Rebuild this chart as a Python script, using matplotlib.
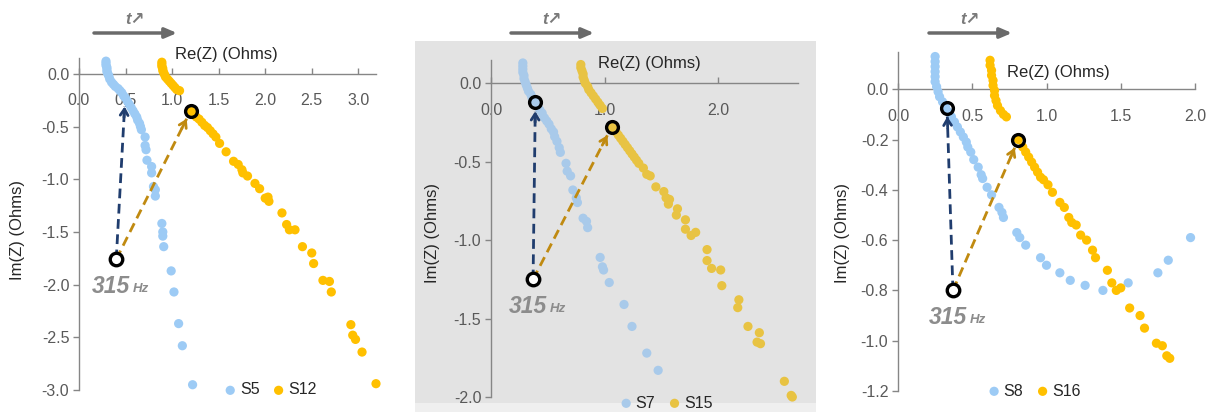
import matplotlib
matplotlib.use("Agg")
import matplotlib.pyplot as plt
import numpy as np
from matplotlib.patches import Rectangle
from matplotlib.ticker import FormatStrFormatter, MultipleLocator

plt.rcParams['font.family'] = ['Liberation Sans', 'DejaVu Sans']
plt.rcParams['axes.unicode_minus'] = False

# ---- panel 1: S5 / S12 ----
s5_re = [0.29, 0.29, 0.29, 0.30, 0.30, 0.30, 0.31, 0.32, 0.33, 0.35, 0.37, 0.39, 0.42, 0.44, 0.46,
         0.48, 0.50, 0.52, 0.54, 0.56, 0.58, 0.60, 0.62, 0.63, 0.65, 0.66, 0.67,
         0.71, 0.71, 0.72, 0.73, 0.78, 0.78, 0.80, 0.82, 0.82, 0.89, 0.90, 0.90, 0.91, 0.99, 1.02,
         1.07, 1.11, 1.22]
s5_im = [0.12, 0.10, 0.08, 0.06, 0.04, 0.02, 0.00, -0.02, -0.05, -0.08, -0.10, -0.12, -0.14, -0.16, -0.18,
         -0.21, -0.23, -0.26, -0.29, -0.32, -0.35, -0.38, -0.41, -0.44, -0.47, -0.50, -0.53,
         -0.60, -0.68, -0.72, -0.82, -0.88, -0.94, -1.07, -1.10, -1.16, -1.42, -1.50, -1.54, -1.64, -1.87, -2.07,
         -2.37, -2.58, -2.95]
s12_re = [0.89, 0.89, 0.89, 0.90, 0.90, 0.91, 0.92, 0.93, 0.95, 0.97, 0.99, 1.01, 1.03, 1.05, 1.08,
          1.20, 1.23, 1.26, 1.29, 1.32, 1.35, 1.38, 1.41, 1.44, 1.47, 1.51, 1.58, 1.66, 1.71, 1.75, 1.76,
          1.81, 1.89, 1.94, 2.00, 2.04, 2.03, 2.18, 2.23, 2.26, 2.32, 2.40, 2.50, 2.52, 2.62, 2.69, 2.71,
          2.92, 2.94, 2.97, 3.04, 3.19]
s12_im = [0.11, 0.09, 0.07, 0.05, 0.03, 0.01, -0.01, -0.03, -0.05, -0.07, -0.09, -0.11, -0.13, -0.15, -0.16,
          -0.35, -0.38, -0.41, -0.43, -0.46, -0.49, -0.51, -0.54, -0.57, -0.60, -0.66, -0.74, -0.83, -0.86, -0.91, -0.94,
          -0.97, -1.04, -1.09, -1.18, -1.21, -1.17, -1.32, -1.43, -1.48, -1.48, -1.64, -1.70, -1.80, -1.96, -1.97, -2.07,
          -2.38, -2.48, -2.52, -2.64, -2.94]

# ---- panel 2: S7 / S15 ----
s7_re = [0.28, 0.28, 0.28, 0.28, 0.29, 0.29, 0.30, 0.31, 0.32, 0.33, 0.35, 0.36, 0.38, 0.39, 0.41, 0.43,
         0.45, 0.47, 0.49, 0.51, 0.53, 0.55, 0.56, 0.58,
         0.60, 0.61, 0.66, 0.67, 0.70, 0.72, 0.75, 0.76, 0.81, 0.84, 0.85, 0.96, 0.98, 0.99, 1.04, 1.17,
         1.24, 1.37, 1.47]
s7_im = [0.13, 0.11, 0.09, 0.07, 0.05, 0.03, 0.01, -0.01, -0.03, -0.05, -0.07, -0.09, -0.11, -0.12, -0.14, -0.17,
         -0.19, -0.22, -0.24, -0.26, -0.29, -0.31, -0.34, -0.37,
         -0.41, -0.44, -0.51, -0.56, -0.59, -0.68, -0.73, -0.76, -0.86, -0.88, -0.92, -1.11, -1.17, -1.19, -1.27, -1.41,
         -1.55, -1.72, -1.83]
s15_re = [0.79, 0.79, 0.80, 0.81, 0.81, 0.82, 0.83, 0.85, 0.86, 0.88, 0.90, 0.92, 0.94, 0.96, 0.98,
          1.06, 1.08, 1.10, 1.12, 1.14, 1.16, 1.18, 1.20, 1.22, 1.24, 1.26, 1.28, 1.30, 1.34, 1.37, 1.40,
          1.45, 1.52, 1.54, 1.57, 1.56, 1.64, 1.63, 1.71, 1.71, 1.76, 1.80, 1.90, 1.90, 1.94, 2.02, 2.03,
          2.18, 2.17, 2.26, 2.36, 2.34, 2.37, 2.58, 2.64, 2.65]
s15_im = [0.12, 0.10, 0.08, 0.06, 0.04, 0.02, 0.00, -0.02, -0.04, -0.06, -0.08, -0.10, -0.12, -0.14, -0.16,
          -0.28, -0.29, -0.31, -0.33, -0.35, -0.37, -0.39, -0.41, -0.43, -0.45, -0.47, -0.49, -0.51, -0.54, -0.58, -0.59,
          -0.66, -0.69, -0.73, -0.74, -0.77, -0.80, -0.84, -0.87, -0.93, -0.97, -0.95, -1.06, -1.13, -1.18, -1.19, -1.29,
          -1.38, -1.43, -1.55, -1.59, -1.65, -1.66, -1.90, -1.99, -2.00]

# ---- panel 3: S8 / S16 ----
s8_re = [0.25, 0.25, 0.25, 0.25, 0.25, 0.25, 0.26, 0.27, 0.28, 0.30, 0.32, 0.34, 0.36, 0.38, 0.40, 0.42,
         0.44, 0.46, 0.47, 0.49,
         0.51, 0.54, 0.56, 0.57, 0.60, 0.63, 0.68, 0.70, 0.71, 0.80, 0.82, 0.86, 0.96, 1.00, 1.09, 1.16,
         1.26, 1.38, 1.55, 1.75, 1.82, 1.97]
s8_im = [0.13, 0.11, 0.09, 0.07, 0.05, 0.03, 0.01, -0.01, -0.03, -0.05, -0.07, -0.09, -0.11, -0.13, -0.15, -0.17,
         -0.19, -0.21, -0.23, -0.25,
         -0.28, -0.31, -0.34, -0.355, -0.39, -0.42, -0.47, -0.49, -0.51, -0.57, -0.59, -0.62, -0.67, -0.70, -0.73, -0.76,
         -0.78, -0.80, -0.77, -0.73, -0.68, -0.59]
s16_re = [0.62, 0.62, 0.63, 0.63, 0.64, 0.64, 0.65, 0.65, 0.66, 0.67, 0.69, 0.71, 0.73,
          0.81, 0.84, 0.86, 0.88, 0.90, 0.92, 0.94, 0.96, 0.98, 1.01, 1.04, 1.09, 1.12, 1.15, 1.17, 1.20,
          1.23, 1.27, 1.31, 1.33, 1.41, 1.44, 1.47, 1.50, 1.56, 1.63, 1.66, 1.74, 1.78, 1.81, 1.83]
s16_im = [0.115, 0.095, 0.075, 0.055, 0.035, 0.015, -0.005, -0.025, -0.045, -0.065, -0.085, -0.10, -0.11,
          -0.20, -0.23, -0.25, -0.27, -0.29, -0.31, -0.33, -0.35, -0.36, -0.38, -0.41, -0.45, -0.47, -0.51, -0.53, -0.54,
          -0.58, -0.60, -0.64, -0.67, -0.72, -0.77, -0.80, -0.79, -0.87, -0.90, -0.95, -1.01, -1.02, -1.06, -1.07]

# 315 Hz points: (start circle, low-freq sample point, high-freq sample point)
hz315 = [[(0.40, -1.76), (0.49, -0.31), (1.20, -0.35)],
         [(0.37, -1.25), (0.39, -0.12), (1.06, -0.28)],
         [(0.37, -0.80), (0.33, -0.073), (0.81, -0.20)]]
circle_on_blue = [False, True, True]

W, H = 1214, 412
fig = plt.figure(figsize=(W / 100, H / 100), dpi=100)

# grey backdrop behind middle chart
fig.patches.append(Rectangle((415 / W, 1 - 403 / H), 401 / W, 362 / H, transform=fig.transFigure,
                             facecolor='#E3E3E3', edgecolor='none', zorder=-2))
fig.patches.append(Rectangle((415 / W, 0), 401 / W, 9 / H, transform=fig.transFigure,
                             facecolor='#EFEFEF', edgecolor='none', zorder=-2))

panels = [
    dict(rect=[79, 58, 376, 390], xlim=(0, 3.19), ylim=(-3.0, 0.15), xstep=0.5, ystep=0.5,
         data=(s5_re, s5_im, s12_re, s12_im), names=('S5', 'S12'),
         colors=('#9DCBF5', '#FFC000'), xlab=(0.495, 1.012), ylab=(18, 230), leg=(271, 390),
         top=(94, 177, 135)),
    dict(rect=[491, 60, 798, 397], xlim=(0, 2.70), ylim=(-2.0, 0.149), xstep=1.0, ystep=0.5,
         data=(s7_re, s7_im, s15_re, s15_im), names=('S7', 'S15'),
         colors=('#A9CAEA', '#E8C343'), xlab=(0.515, 0.991), ylab=(432, 233), leg=(667, 403),
         top=(511, 594, 552)),
    dict(rect=[898, 52, 1195, 391], xlim=(0, 2.0), ylim=(-1.2, 0.148), xstep=0.5, ystep=0.2,
         data=(s8_re, s8_im, s16_re, s16_im), names=('S8', 'S16'),
         colors=('#9DCBF5', '#FFC000'), xlab=(0.539, 0.941), ylab=(842, 233), leg=(1035, 391),
         top=(929, 1012, 970)),
]

axis_grey = '#868686'
tick_grey = '#595959'
for i, p in enumerate(panels):
    x0, y0, x1, y1 = p['rect']
    ax = fig.add_axes([x0 / W, 1 - y1 / H, (x1 - x0) / W, (y1 - y0) / H])
    ax.set_zorder(2)
    ax.set_facecolor('none')
    ax.set_xlim(*p['xlim'])
    ax.set_ylim(*p['ylim'])
    for s in ['top', 'right']:
        ax.spines[s].set_visible(False)
    ax.spines['bottom'].set_position(('data', 0))
    for s in ['bottom', 'left']:
        ax.spines[s].set_color(axis_grey)
        ax.spines[s].set_linewidth(1.0)
    ax.xaxis.set_major_locator(MultipleLocator(p['xstep']))
    ax.yaxis.set_major_locator(MultipleLocator(p['ystep']))
    ax.xaxis.set_major_formatter(FormatStrFormatter('%.1f'))
    ax.yaxis.set_major_formatter(FormatStrFormatter('%.1f'))
    ax.tick_params(axis='x', direction='in', length=4, width=1, color=axis_grey, pad=14,
                   labelsize=11.5, labelcolor=tick_grey)
    ax.tick_params(axis='y', direction='out', length=4, width=1, color=axis_grey, pad=3,
                   labelsize=11.5, labelcolor=tick_grey)

    bre, bim, gre, gim = p['data']
    cb, cg = p['colors']
    hb = ax.scatter(bre, bim, s=44, color=cb, edgecolors='none', zorder=3, clip_on=False, label=p['names'][0])
    hg = ax.scatter(gre, gim, s=44, color=cg, edgecolors='none', zorder=3, clip_on=False, label=p['names'][1])

    ax.text(p['xlab'][0], p['xlab'][1], 'Re(Z) (Ohms)', transform=ax.transAxes, ha='center', va='center',
            fontsize=12, color='#262626')
    fig.text(p['ylab'][0] / W, 1 - p['ylab'][1] / H, 'Im(Z) (Ohms)', rotation=90, ha='center', va='center',
             fontsize=12, color='#262626')

    # dashed arrows from the 315 Hz circle
    (sx, sy), (bx, by), (gx, gy) = hz315[i]
    for (ex, ey), col, shrink in [((bx, by), '#203D6E', 9 if circle_on_blue[i] else 0), ((gx, gy), '#C08A10', 9)]:
        ps = ax.transData.transform((sx, sy))
        pe = ax.transData.transform((ex, ey))
        d = (pe - ps) / np.hypot(*(pe - ps))
        pe2 = pe - d * shrink
        ex2, ey2 = ax.transData.inverted().transform(pe2)
        ax.plot([sx, ex2], [sy, ey2], color=col, lw=2.0, ls=(0, (3.5, 2)), zorder=4)
        ax.annotate('', xy=(ex2, ey2), xytext=(-d[0] * 8, -d[1] * 8), textcoords='offset points',
                    arrowprops=dict(arrowstyle='->,head_length=0.45,head_width=0.28', color=col, lw=2.0,
                                    shrinkA=0, shrinkB=0), zorder=5)
    ax.plot([sx], [sy], marker='o', ms=9, mew=2.4, mec='black', mfc='white', zorder=6, clip_on=False)
    if circle_on_blue[i]:
        ax.plot([bx], [by], marker='o', ms=8.5, mew=2.4, mec='black', mfc='none', zorder=6)
    ax.plot([gx], [gy], marker='o', ms=8.5, mew=2.4, mec='black', mfc='none', zorder=6)
    ax.annotate('315', xy=(sx, sy), xytext=(-24, -27), textcoords='offset pixels', ha='left', va='center',
                fontsize=16.5, fontweight='bold', fontstyle='italic', color='#8C8C8C', zorder=6)
    ax.annotate('Hz', xy=(sx, sy), xytext=(17, -30), textcoords='offset pixels', ha='left', va='center',
                fontsize=9.5, fontweight='bold', fontstyle='italic', color='#8C8C8C', zorder=6)

    ax.legend(handles=[hb, hg], loc='center', bbox_to_anchor=(p['leg'][0] / W, 1 - p['leg'][1] / H),
              bbox_transform=fig.transFigure, ncol=2, frameon=False, fontsize=11.5, handlelength=0.6,
              handletextpad=0.3, columnspacing=0.9, borderpad=0, labelcolor='#262626', scatterpoints=1)

    # time arrow above each chart
    ta, tb, tt = p['top']
    ax.annotate('', xy=(tb, H - 33), xytext=(ta, H - 33), xycoords='figure pixels', textcoords='figure pixels',
                arrowprops=dict(arrowstyle='-|>,head_length=0.7,head_width=0.3', color='#6A6A6A', lw=2.5,
                                shrinkA=0, shrinkB=0), annotation_clip=False)
    fig.text(tt / W, 1 - 19 / H, 't\u2197', ha='center', va='center', fontsize=12, fontstyle='italic',
             fontweight='bold', color='#7A7A7A')

fig.savefig('out.png', dpi=100)
